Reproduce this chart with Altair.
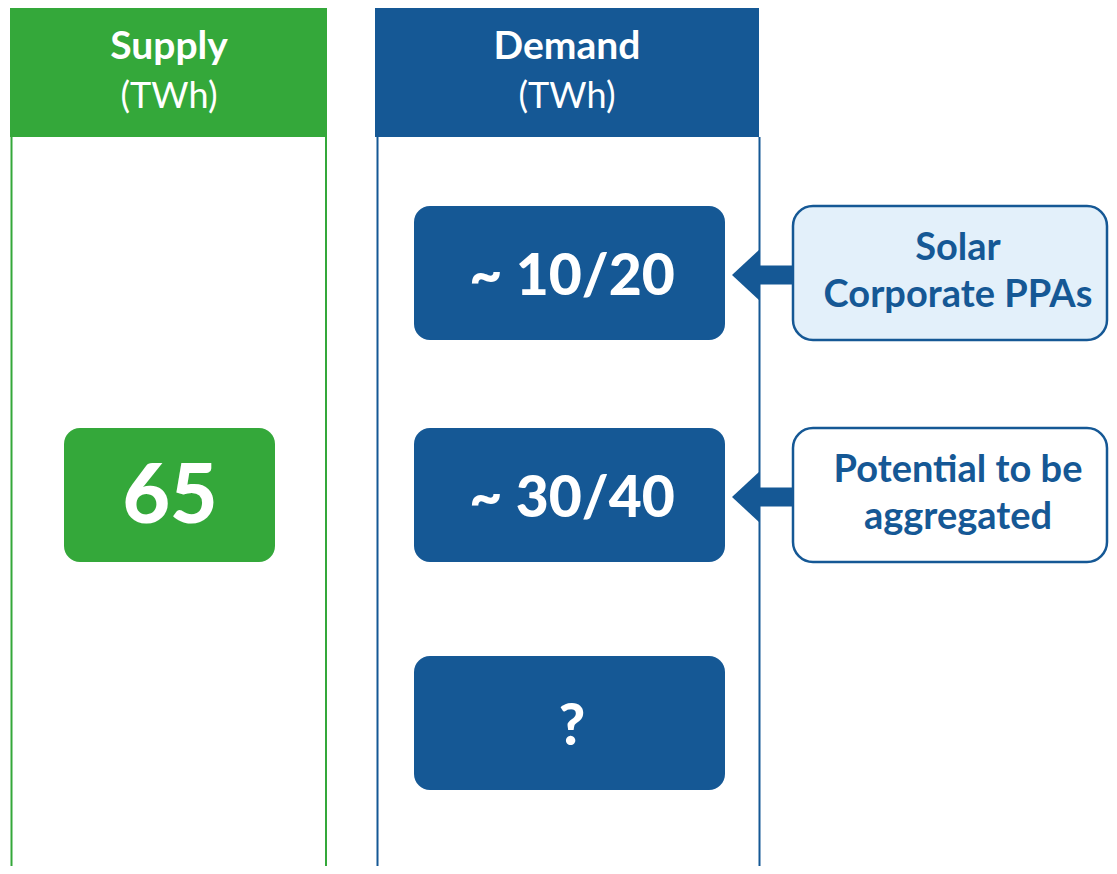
import altair as alt
import pandas as pd

# ---- content ----
column_titles = ["Supply", "Demand"]
column_units = ["(TWh)", "(TWh)"]
supply_values = ["65"]
demand_values = ["~ 10/20", "~ 30/40", "?"]
callout_lines = [["Solar", "Corporate PPAs"], ["Potential to be", "aggregated"]]

# ---- colours ----
GREEN = "#34A83A"
BLUE = "#155895"
LIGHT = "#E3F0FA"
FONT = "Lato"

# ---- layout (page pixel coordinates) ----
PAGE_W, PAGE_H = 1109, 866
col_left = [10, 375]
col_right = [327, 759]
col_center = [169, 567]
header_top, header_bottom = 4, 137
title_base, unit_base = 59, 108
side_lines = [(11.5, GREEN), (326, GREEN), (377.5, BLUE), (759.5, BLUE)]

supply_box = dict(x=64, x2=275, cx=170)
demand_box = dict(x=414, x2=725, cx=572)
row_top = [206, 428, 656]
row_bottom = [340, 562, 790]
supply_row = 1
value_base_demand = [295, 517, 745]
value_base_supply = 523

callout_x, callout_x2 = 793, 1107
callout_cx = 958
callout_fill = [LIGHT, "white"]
callout_base = [[260, 307], [482, 529]]
arrow_mid = [275, 497]

xs = alt.Scale(domain=[8, PAGE_W], nice=False, zero=False)
ys = alt.Scale(domain=[8, PAGE_H], nice=False, zero=False, reverse=True)
X = lambda f="x": alt.X(f"{f}:Q", scale=xs, axis=None)
Y = lambda f="y": alt.Y(f"{f}:Q", scale=ys, axis=None)

layers = []

# headers
hdr = pd.DataFrame({"x": col_left, "x2": col_right, "y": [header_top] * 2,
                    "y2": [header_bottom] * 2, "c": [GREEN, BLUE]})
layers.append(alt.Chart(hdr).mark_rect(clip=True).encode(
    x=X(), x2="x2", y=Y(), y2="y2", color=alt.Color("c:N", scale=None)))

# column side lines
ln = pd.DataFrame({"x": [s[0] for s in side_lines], "c": [s[1] for s in side_lines],
                   "y": [header_bottom] * 4, "y2": [PAGE_H + 10] * 4})
layers.append(alt.Chart(ln).mark_rule(strokeWidth=2, clip=True).encode(
    x=X(), y=Y(), y2="y2", color=alt.Color("c:N", scale=None)))

# header texts
ht = pd.DataFrame({"x": col_center, "y": [title_base] * 2, "t": column_titles})
layers.append(alt.Chart(ht).mark_text(font=FONT, fontWeight="bold", fontSize=39,
                                      color="white", align="center", baseline="alphabetic").encode(
    x=X(), y=Y(), text="t:N"))
ut = pd.DataFrame({"x": col_center, "y": [unit_base] * 2, "t": column_units})
layers.append(alt.Chart(ut).mark_text(font=FONT, fontWeight="normal", fontSize=36,
                                      color="white", align="center", baseline="alphabetic").encode(
    x=X(), y=Y(), text="t:N"))

# value boxes
bx = pd.DataFrame({
    "x": [supply_box["x"]] + [demand_box["x"]] * 3,
    "x2": [supply_box["x2"]] + [demand_box["x2"]] * 3,
    "y": [row_top[supply_row]] + row_top,
    "y2": [row_bottom[supply_row]] + row_bottom,
    "c": [GREEN, BLUE, BLUE, BLUE]})
layers.append(alt.Chart(bx).mark_rect(cornerRadius=16).encode(
    x=X(), x2="x2", y=Y(), y2="y2", color=alt.Color("c:N", scale=None)))

sv = pd.DataFrame({"x": [supply_box["cx"]], "y": [value_base_supply], "t": supply_values})
layers.append(alt.Chart(sv).mark_text(font=FONT, fontWeight=900, fontSize=82,
                                      color="white", align="center", baseline="alphabetic").encode(
    x=X(), y=Y(), text="t:N"))
dv = pd.DataFrame({"x": [demand_box["cx"]] * 3, "y": value_base_demand, "t": demand_values})
layers.append(alt.Chart(dv).mark_text(font=FONT, fontWeight=900, fontSize=57,
                                      color="white", align="center", baseline="alphabetic").encode(
    x=X(), y=Y(), text="t:N"))

# callout boxes
cb = pd.DataFrame({"x": [callout_x] * 2, "x2": [callout_x2] * 2,
                   "y": row_top[:2], "y2": row_bottom[:2], "c": callout_fill})
layers.append(alt.Chart(cb).mark_rect(cornerRadius=20, stroke=BLUE, strokeWidth=2.5, clip=True).encode(
    x=X(), x2="x2", y=Y(), y2="y2", color=alt.Color("c:N", scale=None)))

ct_rows = []
for i, lines in enumerate(callout_lines):
    for j, t in enumerate(lines):
        ct_rows.append({"x": callout_cx, "y": callout_base[i][j], "t": t})
ct = pd.DataFrame(ct_rows)
layers.append(alt.Chart(ct).mark_text(font=FONT, fontWeight="bold", fontSize=38,
                                      color=BLUE, align="center", baseline="alphabetic").encode(
    x=X(), y=Y(), text="t:N"))

# arrows: shaft + head
sh = pd.DataFrame({"x": [758] * 2, "x2": [callout_x] * 2,
                   "y": [m - 9.5 for m in arrow_mid], "y2": [m + 9.5 for m in arrow_mid]})
layers.append(alt.Chart(sh).mark_rect(color=BLUE).encode(x=X(), x2="x2", y=Y(), y2="y2"))
hd_rows = []
for k, m in enumerate(arrow_mid):
    hd_rows.append({"a": k, "x": 732, "y": m, "y2": m})
    hd_rows.append({"a": k, "x": 760, "y": m - 26, "y2": m + 26})
hd = pd.DataFrame(hd_rows)
layers.append(alt.Chart(hd).mark_area(color=BLUE, orient="vertical", opacity=1).encode(
    x=X(), y=Y(), y2="y2", detail="a:N"))

chart = alt.layer(*layers).properties(
    width=PAGE_W - 8, height=PAGE_H - 8, padding=0, autosize=alt.AutoSizeParams(type="none")
).configure_view(stroke=None)

chart.save("out.html", embed_options={"renderer": "svg", "actions": False})
